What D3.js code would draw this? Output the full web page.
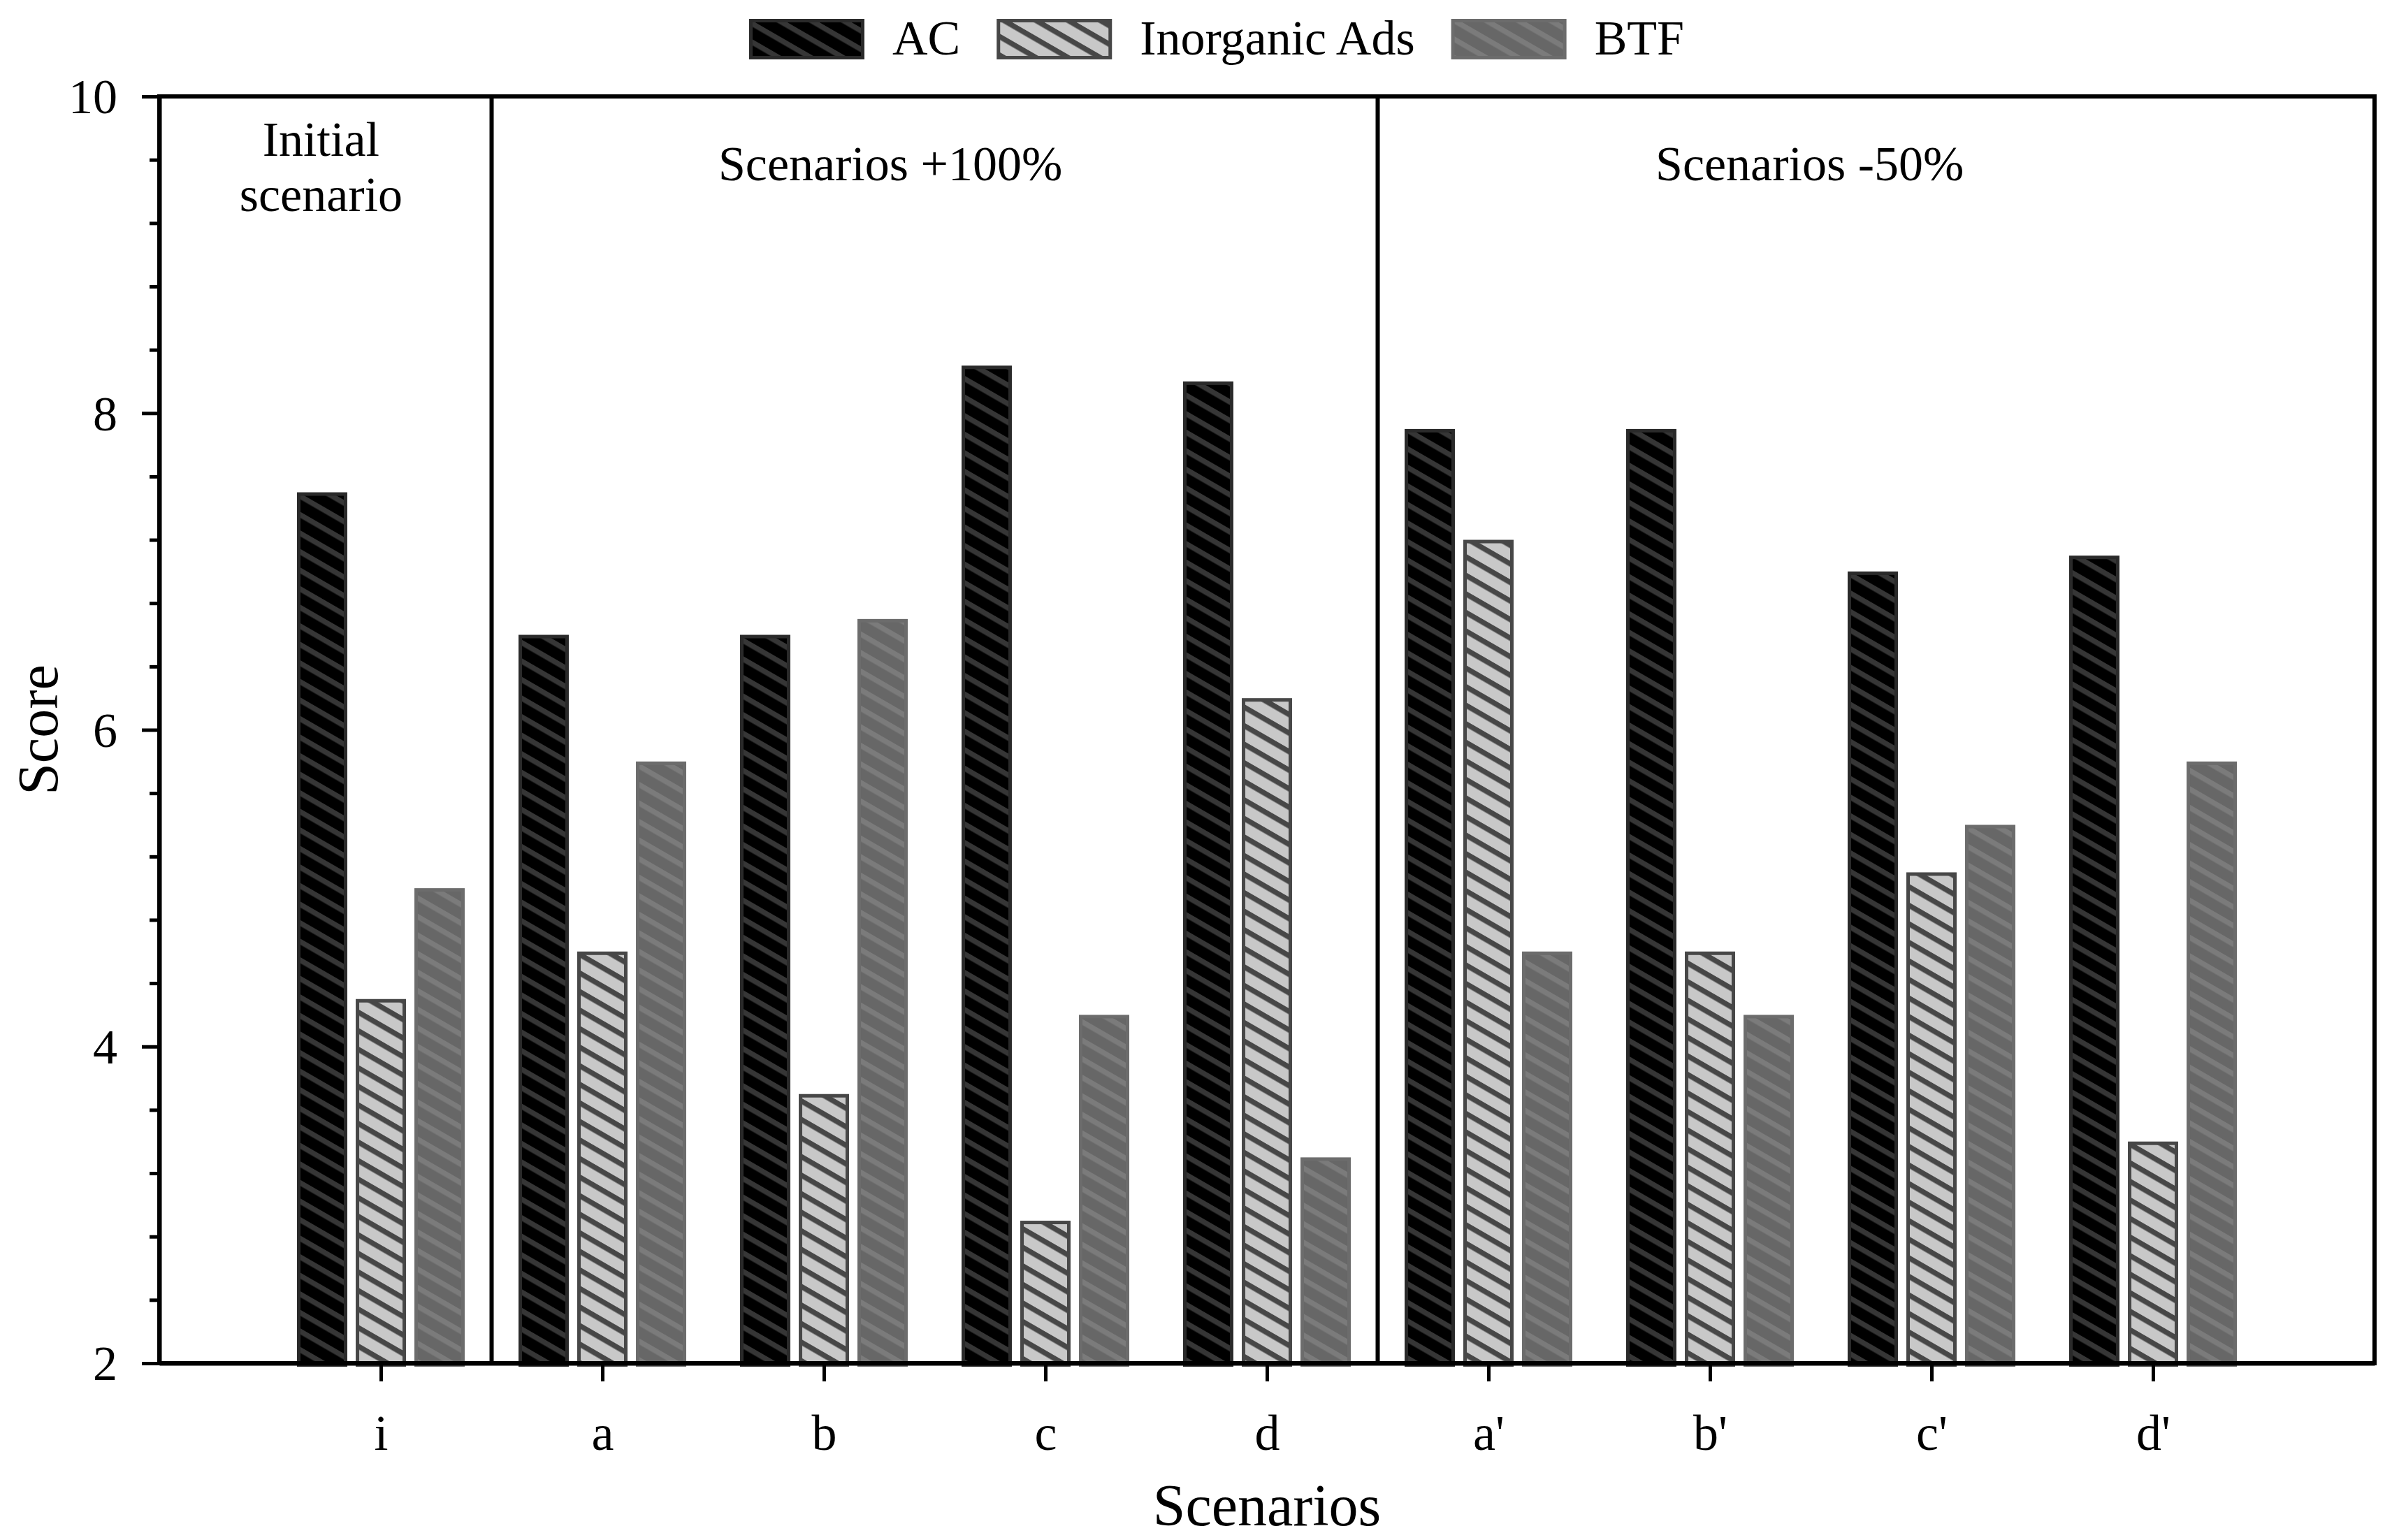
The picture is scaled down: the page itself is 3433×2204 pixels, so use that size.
<!DOCTYPE html>
<html>
<head>
<meta charset="utf-8">
<script src="https://cdn.jsdelivr.net/npm/d3@7"></script>
<style>
    body { margin: 0; background: #fff; }
    #chart { width: 3433px; height: 2204px; }
</style>
</head>
<body>
<div id="chart"></div>
<script>
// Scenario categories and scores per technology
const scenarios = ['i', 'a', 'b', 'c', 'd', "a'", "b'", "c'", "d'"];
const acScores = [7.5, 6.6, 6.6, 8.3, 8.2, 7.9, 7.9, 7.0, 7.1];
const inorganicScores = [4.3, 4.6, 3.7, 2.9, 6.2, 7.2, 4.6, 5.1, 3.4];
const btfScores = [5.0, 5.8, 6.7, 4.2, 3.3, 4.6, 4.2, 5.4, 5.8];
const seriesNames = ['AC', 'Inorganic Ads', 'BTF'];
const yTicks = [2, 4, 6, 8, 10];
const sectionLabels = [['Initial', 'scenario'], ['Scenarios +100%'], ['Scenarios -50%']];

function drawChart() {
    const width = 3433, height = 2204;
    const margin = { top: 138, right: 35, bottom: 253, left: 228 };
    const font = "'Liberation Serif', 'Times New Roman', serif";

    const svg = d3.select('#chart').append('svg')
        .attr('width', width)
        .attr('height', height)
        .style('background', '#fff');

    const innerW = width - margin.left - margin.right;
    const innerH = height - margin.top - margin.bottom;

    const g = svg.append('g')
        .attr('transform', `translate(${margin.left},${margin.top})`);

    // Scales: x runs 0..10 with scenarios on 1..9
    const x = d3.scaleLinear().domain([0, 10]).range([0, innerW]);
    const y = d3.scaleLinear().domain([2, 10]).range([innerH, 0]);

    // Hatch patterns (backslash-like stripes)
    const styles = [
        { fill: '#000000', stripe: '#363636', border: '#2a2a2a' },
        { fill: '#c8c8c8', stripe: '#474747', border: '#474747' },
        { fill: '#676767', stripe: '#7b7b7b', border: '#6c6c6c' }
    ];
    const defs = svg.append('defs');
    styles.forEach((s, i) => {
        const p = defs.append('pattern')
            .attr('id', `hatch${i}`)
            .attr('patternUnits', 'userSpaceOnUse')
            .attr('width', 40)
            .attr('height', 23)
            .attr('patternTransform', 'rotate(30)');
        p.append('rect').attr('width', 40).attr('height', 23).attr('fill', s.fill);
        p.append('rect').attr('y', 0).attr('width', 40).attr('height', 7.5).attr('fill', s.stripe);
    });

    // Bars
    const seriesData = [acScores, inorganicScores, btfScores];
    const barOffset = 0.265;
    const barWidth = 0.227;
    const sw = 5;

    seriesData.forEach((values, k) => {
        g.selectAll(`.bar-${k}`)
            .data(values)
            .enter()
            .append('rect')
            .attr('class', `bar-${k}`)
            .attr('x', (d, i) => x(i + 1 + (k - 1) * barOffset - barWidth / 2) + sw / 2)
            .attr('width', x(barWidth) - x(0) - sw)
            .attr('y', d => y(d) + sw / 2)
            .attr('height', d => y(2) - y(d))
            .attr('fill', `url(#hatch${k})`)
            .attr('stroke', styles[k].border)
            .attr('stroke-width', sw);
    });

    // Section dividers
    [1.5, 5.5].forEach(v => {
        g.append('line')
            .attr('x1', x(v)).attr('x2', x(v))
            .attr('y1', y(10)).attr('y2', y(2))
            .attr('stroke', '#000')
            .attr('stroke-width', 6);
    });

    // Section labels
    const labelX = [0.73, 3.3, 7.45];
    const labelY = [[85, 164], [120]];
    sectionLabels.forEach((lines, i) => {
        const t = g.append('text')
            .attr('text-anchor', 'middle')
            .style('font-family', font)
            .style('font-size', '70px')
            .style('fill', '#000');
        lines.forEach((line, j) => {
            t.append('tspan')
                .attr('x', x(labelX[i]))
                .attr('y', lines.length > 1 ? labelY[0][j] : labelY[1][0])
                .text(line);
        });
    });

    // Frame
    g.append('rect')
        .attr('x', 0).attr('y', 0)
        .attr('width', innerW).attr('height', innerH)
        .attr('fill', 'none')
        .attr('stroke', '#000')
        .attr('stroke-width', 6);

    // X axis
    const xAxis = g.append('g')
        .attr('transform', `translate(0,${innerH})`)
        .call(d3.axisBottom(x)
            .tickValues(d3.range(1, scenarios.length + 1))
            .tickFormat(i => scenarios[i - 1])
            .tickSize(26)
            .tickSizeOuter(0));
    xAxis.select('.domain').attr('stroke-width', 6);
    xAxis.selectAll('.tick line').attr('stroke-width', 5);
    xAxis.selectAll('text')
        .attr('y', 124)
        .attr('dy', 0)
        .style('font-family', font)
        .style('font-size', '72px')
        .style('fill', '#000');

    // Y axis minor ticks
    const minorTicks = d3.range(2, 10.01, 0.4).filter(v => yTicks.every(t => Math.abs(t - v) > 0.01));
    g.append('g')
        .call(d3.axisLeft(y).tickValues(minorTicks).tickSize(14).tickFormat('').tickSizeOuter(0))
        .call(a => a.select('.domain').remove())
        .selectAll('.tick line').attr('stroke-width', 5);

    // Y axis
    const yAxis = g.append('g')
        .call(d3.axisLeft(y).tickValues(yTicks).tickSize(25).tickSizeOuter(0));
    yAxis.select('.domain').attr('stroke-width', 6);
    yAxis.selectAll('.tick line').attr('stroke-width', 5);
    yAxis.selectAll('text')
        .attr('x', -60)
        .attr('dy', '0.34em')
        .style('font-family', font)
        .style('font-size', '70px')
        .style('fill', '#000');

    // Axis titles
    g.append('text')
        .attr('x', innerW / 2)
        .attr('y', 2183 - margin.top)
        .attr('text-anchor', 'middle')
        .style('font-family', font)
        .style('font-size', '84px')
        .style('fill', '#000')
        .text('Scenarios');

    g.append('text')
        .attr('transform', `translate(${82 - margin.left}, ${innerH / 2}) rotate(-90)`)
        .attr('text-anchor', 'middle')
        .style('font-family', font)
        .style('font-size', '82px')
        .style('fill', '#000')
        .text('Score');

    // Legend
    const legend = svg.append('g').attr('transform', 'translate(1072, 27)');
    let cursor = 0;
    seriesNames.forEach((name, k) => {
        legend.append('rect')
            .attr('x', cursor + 2.5).attr('y', 2.5)
            .attr('width', 160).attr('height', 53)
            .attr('fill', `url(#hatch${k})`)
            .attr('stroke', styles[k].border)
            .attr('stroke-width', 5);
        const label = legend.append('text')
            .attr('x', cursor + 205)
            .attr('y', 51)
            .style('font-family', font)
            .style('font-size', '70px')
            .style('fill', '#000')
            .text(name);
        cursor += 205 + label.node().getComputedTextLength() + 52;
    });
}

drawChart();
</script>
</body>
</html>
